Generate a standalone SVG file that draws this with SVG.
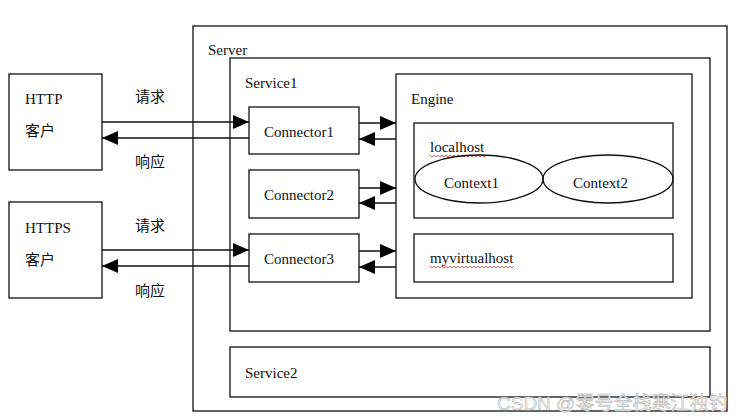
<svg xmlns="http://www.w3.org/2000/svg" width="740" height="420" viewBox="0 0 740 420">
<style>
.box{fill:none;stroke:#111;stroke-width:1.3}
.t{font-family:"Liberation Serif","Noto Sans CJK SC",serif;font-size:15px;fill:#111}
.ln{stroke:#111;stroke-width:1.3;fill:none}
.sq{stroke:#e33;stroke-width:0.8;fill:none}
.wm{font-family:"Liberation Sans","Noto Sans CJK SC",sans-serif;font-size:19px;fill:#f2f2f2;stroke:#a8a8a8;stroke-width:0.45}
</style>
<defs>
<marker id="ah" viewBox="0 0 16 14" refX="16" refY="7" markerWidth="16" markerHeight="14" markerUnits="userSpaceOnUse" orient="auto">
<path d="M0,0 L16,7 L0,14 z" fill="#000"/>
</marker>
</defs>
<rect width="740" height="420" fill="#fff"/>
<g id="server"><rect class="box" x="193" y="26" width="534" height="385"/><text class="t" x="208" y="55">Server</text></g>
<g id="service1"><rect class="box" x="230" y="58" width="480" height="273"/><text class="t" x="245" y="88">Service1</text></g>
<g id="service2"><rect class="box" x="230" y="347" width="480" height="50"/><text class="t" x="245" y="378">Service2</text></g>
<g id="engine"><rect class="box" x="396" y="74" width="296" height="224"/><text class="t" x="411" y="104">Engine</text></g>
<g id="localhost"><rect class="box" x="414" y="123" width="259" height="95"/><text class="t" x="430" y="152">localhost</text>
<path class="sq" d="M430,155 l2,2 l2,-2 l2,2 l2,-2 l2,2 l2,-2 l2,2 l2,-2 l2,2 l2,-2 l2,2 l2,-2 l2,2 l2,-2 l2,2 l2,-2 l2,2 l2,-2 l2,2 l2,-2 l2,2 l2,-2 l2,2 l2,-2 l2,2 l2,-2 l2,2 l2,-2"/></g>
<g id="context1"><ellipse class="box" cx="479" cy="179" rx="64" ry="24"/><text class="t" x="444" y="188">Context1</text></g>
<g id="context2"><ellipse class="box" cx="608" cy="179" rx="65" ry="24"/><text class="t" x="573" y="188">Context2</text></g>
<g id="myvirtualhost"><rect class="box" x="414" y="234" width="259" height="48"/><text class="t" x="430" y="263">myvirtualhost</text>
<path class="sq" d="M430,266 l2,2 l2,-2 l2,2 l2,-2 l2,2 l2,-2 l2,2 l2,-2 l2,2 l2,-2 l2,2 l2,-2 l2,2 l2,-2 l2,2 l2,-2 l2,2 l2,-2 l2,2 l2,-2 l2,2 l2,-2 l2,2 l2,-2 l2,2 l2,-2 l2,2 l2,-2 l2,2 l2,-2 l2,2 l2,-2 l2,2 l2,-2 l2,2 l2,-2 l2,2 l2,-2 l2,2 l2,-2 l2,2 l2,-2"/></g>
<g id="connector1"><rect class="box" x="249" y="107" width="110" height="47"/><text class="t" x="264" y="137">Connector1</text></g>
<g id="connector2"><rect class="box" x="249" y="170" width="110" height="48"/><text class="t" x="264" y="200">Connector2</text></g>
<g id="connector3"><rect class="box" x="249" y="234" width="110" height="48"/><text class="t" x="264" y="264">Connector3</text></g>
<g id="http"><rect class="box" x="9" y="74" width="93" height="96"/><text class="t" x="25" y="104">HTTP</text><text class="t" x="25" y="136">客户</text></g>
<g id="https"><rect class="box" x="9" y="202" width="93" height="96"/><text class="t" x="25" y="233">HTTPS</text><text class="t" x="25" y="265">客户</text></g>
<g id="connectors">
<line class="ln" x1="102" y1="122" x2="249" y2="122" marker-end="url(#ah)"/>
<line class="ln" x1="249" y1="138" x2="102" y2="138" marker-end="url(#ah)"/>
<text class="t" x="135" y="102">请求</text>
<text class="t" x="135" y="167">响应</text>
<line class="ln" x1="102" y1="250" x2="249" y2="250" marker-end="url(#ah)"/>
<line class="ln" x1="249" y1="266" x2="102" y2="266" marker-end="url(#ah)"/>
<text class="t" x="135" y="231">请求</text>
<text class="t" x="135" y="296">响应</text>
<line class="ln" x1="359" y1="123" x2="396" y2="123" marker-end="url(#ah)"/>
<line class="ln" x1="396" y1="139" x2="359" y2="139" marker-end="url(#ah)"/>
<line class="ln" x1="359" y1="188" x2="396" y2="188" marker-end="url(#ah)"/>
<line class="ln" x1="396" y1="203" x2="359" y2="203" marker-end="url(#ah)"/>
<line class="ln" x1="359" y1="251" x2="396" y2="251" marker-end="url(#ah)"/>
<line class="ln" x1="396" y1="267" x2="359" y2="267" marker-end="url(#ah)"/>
</g>
<text class="wm" x="497" y="410">CSDN @零号全栈寒江独钓</text>
</svg>
